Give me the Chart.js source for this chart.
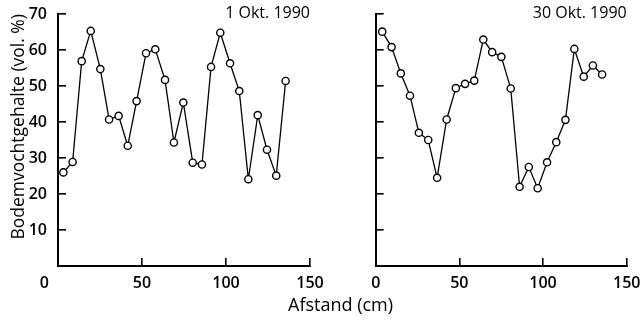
<!DOCTYPE html>
<html>
<head>
<meta charset="utf-8">
<script src="https://cdn.jsdelivr.net/npm/chart.js@4"></script>
<style>
  body { margin: 0; background: #fff; }
  #wrap { position: relative; width: 640px; height: 321px; overflow: hidden; }
  #c1 { position: absolute; left: 0; top: 0; }
  #c2 { position: absolute; left: 320px; top: 0; }
  #xtitle {
    position: absolute; left: 288px; top: 292px;
    font: 18px "Open Sans", sans-serif; color: #000; white-space: nowrap;
  }
</style>
</head>
<body>
<div id="wrap">
  <canvas id="c1" width="340" height="321"></canvas>
  <canvas id="c2" width="320" height="321"></canvas>
  <div id="xtitle">Afstand (cm)</div>
</div>
<script>
// ---------- DATA ----------
const xTicks = [0, 50, 100, 150];
const yTicks = [10, 20, 30, 40, 50, 60, 70];

const oct1X = [3.2, 8.7, 14.1, 19.5, 25.2, 30.4, 36.1, 41.5, 46.8, 52.4, 57.9, 63.7, 69.0,
               74.6, 80.2, 85.7, 91.1, 96.6, 102.4, 107.9, 113.3, 118.9, 124.4, 129.9, 135.5];
const oct1Y = [26.0, 28.9, 56.9, 65.3, 54.7, 40.7, 41.7, 33.4, 45.8, 59.1, 60.2, 51.7, 34.3,
               45.4, 28.7, 28.2, 55.3, 64.8, 56.3, 48.6, 24.1, 41.9, 32.3, 25.1, 51.4];

const oct30X = [3.9, 9.5, 15.0, 20.5, 25.8, 31.4, 36.7, 42.4, 47.9, 53.4, 58.9, 64.3, 69.6,
                75.1, 80.7, 86.0, 91.5, 96.8, 102.4, 107.9, 113.4, 118.7, 124.3, 129.8, 135.3];
const oct30Y = [65.1, 60.8, 53.5, 47.3, 37.0, 35.0, 24.5, 40.7, 49.4, 50.6, 51.5, 62.9, 59.4,
                58.1, 49.3, 22.0, 27.5, 21.6, 28.8, 34.4, 40.6, 60.3, 52.6, 55.7, 53.2];

const FONT = '"Open Sans", sans-serif';

// ---------- PANEL LABEL ----------
const panelLabel = {
  id: "panelLabel",
  afterDraw(chart, args, opts) {
    const { ctx, chartArea } = chart;
    ctx.save();
    ctx.font = `16px ${FONT}`;
    ctx.fillStyle = "#000";
    ctx.textAlign = "right";
    ctx.textBaseline = "middle";
    ctx.fillText(opts.text, chartArea.right, chartArea.top - 1);
    ctx.restore();
  }
};

function makePanel(id, xs, ys, label, yAxisWidth, padRight, showY) {
  const pts = xs.map((x, i) => ({ x, y: ys[i] }));
  return new Chart(document.getElementById(id), {
    type: "line",
    data: {
      datasets: [{
        data: pts,
        borderColor: "#000",
        borderWidth: 1.3,
        pointRadius: 3.6,
        pointBorderWidth: 1.4,
        pointBackgroundColor: "#fff",
        pointBorderColor: "#000",
        tension: 0
      }]
    },
    options: {
      responsive: false,
      animation: false,
      events: [],
      layout: { padding: { top: 14, right: padRight, bottom: 0, left: 0 } },
      plugins: {
        legend: { display: false },
        tooltip: { enabled: false },
        panelLabel: { text: label }
      },
      scales: {
        x: {
          type: "linear",
          min: 0, max: 150,
          afterBuildTicks: s => { s.ticks = xTicks.map(v => ({ value: v })); },
          afterFit: s => { s.height = 55; s.paddingLeft = 0; s.paddingRight = 0; },
          border: { display: true, color: "#000", width: 2 },
          grid: { drawOnChartArea: false, drawTicks: true, tickLength: -8, color: "#000", lineWidth: 1.6 },
          ticks: {
            padding: 16,
            maxRotation: 0,
            color: "#000",
            font: { family: FONT, size: 16, weight: "600" },
            // the left panel's "0" sits to the left of the axis corner
            callback: v => (v === 0 && showY) ? "0\u2007\u2007\u2007" : String(v)
          }
        },
        y: {
          min: 0, max: 70,
          afterBuildTicks: s => { s.ticks = [0].concat(yTicks).map(v => ({ value: v })); },
          afterFit: s => { s.width = yAxisWidth; s.paddingTop = 0; s.paddingBottom = 0; },
          border: { display: true, color: "#000", width: 2 },
          grid: { drawOnChartArea: false, drawTicks: true, tickLength: -8, color: "#000", lineWidth: 1.6 },
          ticks: {
            padding: 19,
            color: "#000",
            font: { family: FONT, size: 16, weight: "600" },
            callback: v => (showY && v !== 0) ? String(v) : ""
          },
          title: {
            display: showY,
            text: "Bodemvochtgehalte (vol. %)",
            align: "end",
            color: "#000",
            font: { family: FONT, size: 17.5 },
            padding: { top: 9, bottom: 0 }
          }
        }
      }
    },
    plugins: [panelLabel]
  });
}

makePanel("c1", oct1X, oct1Y, "1 Okt. 1990", 58, 30, true);
makePanel("c2", oct30X, oct30Y, "30 Okt. 1990", 55.7, 13.3, false);
</script>
</body>
</html>
